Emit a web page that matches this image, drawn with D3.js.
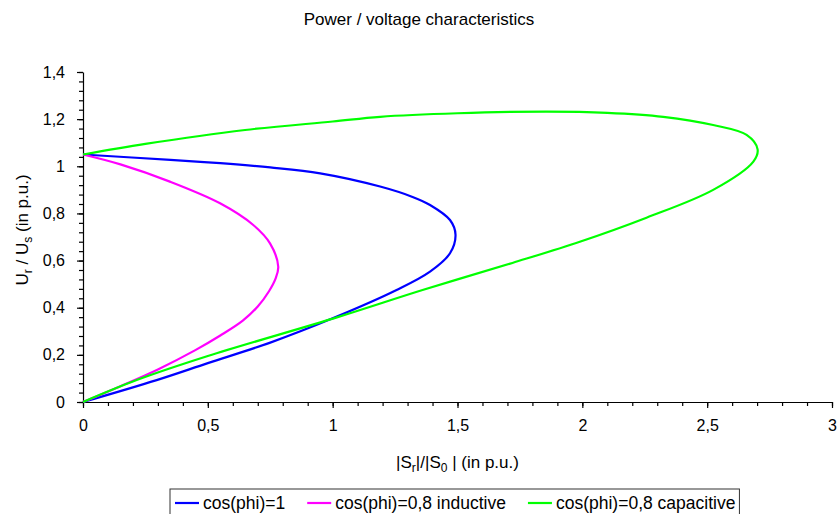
<!DOCTYPE html>
<html>
<head>
<meta charset="utf-8">
<script src="https://cdnjs.cloudflare.com/ajax/libs/d3/7.8.5/d3.min.js"></script>
<style>
  body { margin: 0; background: #fff; }
  text { font-family: "Liberation Sans", Arial, sans-serif; fill: #000; }
</style>
</head>
<body>
<div id="vis"></div>
<script>
// chart values (|Sr|/|S0| and Ur/Us, in p.u.)
var seriesNames = ["cos(phi)=1", "cos(phi)=0,8 inductive", "cos(phi)=0,8 capacitive"];
var seriesColors = ["#0000ff", "#ff00ff", "#00ff00"];

var blueP = [0, 0.35, 0.55, 0.75, 0.95, 1.19, 1.32, 1.39, 1.47, 1.492, 1.47, 1.39, 1.256, 1.0, 0.75, 0.5, 0.295, 0];
var blueU = [1.05, 1.027, 1.013, 0.995, 0.97, 0.914, 0.87, 0.836, 0.772, 0.71, 0.631, 0.553, 0.475, 0.355, 0.252, 0.165, 0.093, 0];

var pinkP = [0, 0.15, 0.348, 0.549, 0.682, 0.749, 0.782, 0.77, 0.745, 0.7, 0.64, 0.55, 0.45, 0.3, 0.15, 0];
var pinkU = [1.05, 1.008, 0.935, 0.843, 0.751, 0.673, 0.574, 0.52, 0.47, 0.405, 0.345, 0.282, 0.22, 0.138, 0.067, 0];

var greenP = [0, 0.25, 0.649, 1.0, 1.19, 1.5, 1.857, 2.1, 2.324, 2.524, 2.658, 2.702, 2.685, 2.524, 2.257, 1.99, 1.72, 1.36, 1.02, 0.5, 0.215, 0];
var greenU = [1.05, 1.095, 1.154, 1.19, 1.21, 1.225, 1.232, 1.227, 1.21, 1.175, 1.133, 1.072, 1.02, 0.9, 0.782, 0.68, 0.59, 0.475, 0.36, 0.195, 0.093, 0];

var xTicks = [0, 0.5, 1, 1.5, 2, 2.5, 3];
var yTicks = [0, 0.2, 0.4, 0.6, 0.8, 1, 1.2, 1.4];

var width = 838;
var height = 514;
var margin = { top: 72, right: 6, bottom: 112, left: 83 };

var svg = d3.select("#vis")
            .append("svg")
            .attr("width", width)
            .attr("height", height);

var x = d3.scaleLinear().domain([0, 3]).range([margin.left, width - margin.right]);
var y = d3.scaleLinear().domain([0, 1.4]).range([height - margin.bottom, margin.top]);

var fmt = function(d) { return String(+d.toFixed(2)).replace(".", ","); };

// title
svg.append("text")
   .attr("x", width / 2)
   .attr("y", 25)
   .attr("text-anchor", "middle")
   .style("font-size", "17px")
   .text("Power / voltage characteristics");

// minor ticks first, then major axes over them
svg.append("g")
   .attr("transform", "translate(0," + y(0) + ")")
   .call(d3.axisBottom(x).ticks(30).tickSize(4).tickFormat(""))
   .call(function(g) { g.select(".domain").remove(); });

svg.append("g")
   .attr("transform", "translate(" + x(0) + ",0)")
   .call(d3.axisLeft(y).tickValues(d3.range(0, 1.4001, 0.04)).tickSize(4).tickFormat(""))
   .call(function(g) { g.select(".domain").remove(); });

svg.append("g")
   .attr("transform", "translate(0," + y(0) + ")")
   .call(d3.axisBottom(x).tickValues(xTicks).tickSize(6).tickSizeOuter(0).tickPadding(12).tickFormat(fmt));

svg.append("g")
   .attr("transform", "translate(" + x(0) + ",0)")
   .call(d3.axisLeft(y).tickValues(yTicks).tickSize(6).tickSizeOuter(0).tickPadding(12).tickFormat(fmt));

svg.selectAll(".tick text")
   .style("font-size", "16px")
   .style("font-family", "'Liberation Sans', Arial, sans-serif");
svg.selectAll(".domain, .tick line").attr("stroke", "#000").attr("stroke-width", 1.2);

// axis titles
var xt = svg.append("text")
   .attr("x", x(1.5))
   .attr("y", 468)
   .attr("text-anchor", "middle")
   .style("font-size", "17px");
xt.append("tspan").text("|S");
xt.append("tspan").attr("dy", 4).style("font-size", "12px").text("r");
xt.append("tspan").attr("dy", -4).text("|/|S");
xt.append("tspan").attr("dy", 4).style("font-size", "12px").text("0");
xt.append("tspan").attr("dy", -4).text(" | (in p.u.)");

var yt = svg.append("text")
   .attr("transform", "translate(28," + y(0.73) + ") rotate(-90)")
   .attr("text-anchor", "middle")
   .style("font-size", "17px");
yt.append("tspan").text("U");
yt.append("tspan").attr("dy", 4).style("font-size", "12px").text("r");
yt.append("tspan").attr("dy", -4).text(" / U");
yt.append("tspan").attr("dy", 4).style("font-size", "12px").text("s");
yt.append("tspan").attr("dy", -4).text(" (in p.u.)");

// curves
var line = d3.line()
   .x(function(d) { return x(d[0]); })
   .y(function(d) { return y(d[1]); })
   .curve(d3.curveCatmullRom.alpha(0.5));

var series = [d3.zip(blueP, blueU), d3.zip(pinkP, pinkU), d3.zip(greenP, greenU)];

svg.append("g")
   .selectAll("path")
   .data(series)
   .enter().append("path")
   .attr("fill", "none")
   .attr("stroke", function(d, i) { return seriesColors[i]; })
   .attr("stroke-width", 2.2)
   .attr("d", line);

// legend
var legend = svg.append("g");
var lx = 175, ly = 503;
var items = legend.selectAll("g")
   .data(seriesNames)
   .enter().append("g");

items.each(function(name, i) {
    var g = d3.select(this);
    g.append("line")
     .attr("x1", lx).attr("x2", lx + 24)
     .attr("y1", ly).attr("y2", ly)
     .attr("stroke", seriesColors[i])
     .attr("stroke-width", 2.2);
    var t = g.append("text")
     .attr("x", lx + 28)
     .attr("y", ly + 6)
     .style("font-size", "17.5px")
     .text(name);
    lx += 28 + t.node().getComputedTextLength() + 22;
});

legend.insert("rect", ":first-child")
   .attr("x", 170)
   .attr("y", 489)
   .attr("width", lx - 18 - 170)
   .attr("height", 40)
   .attr("fill", "#fff")
   .attr("stroke", "#333")
   .attr("stroke-width", 1);
</script>
</body>
</html>
